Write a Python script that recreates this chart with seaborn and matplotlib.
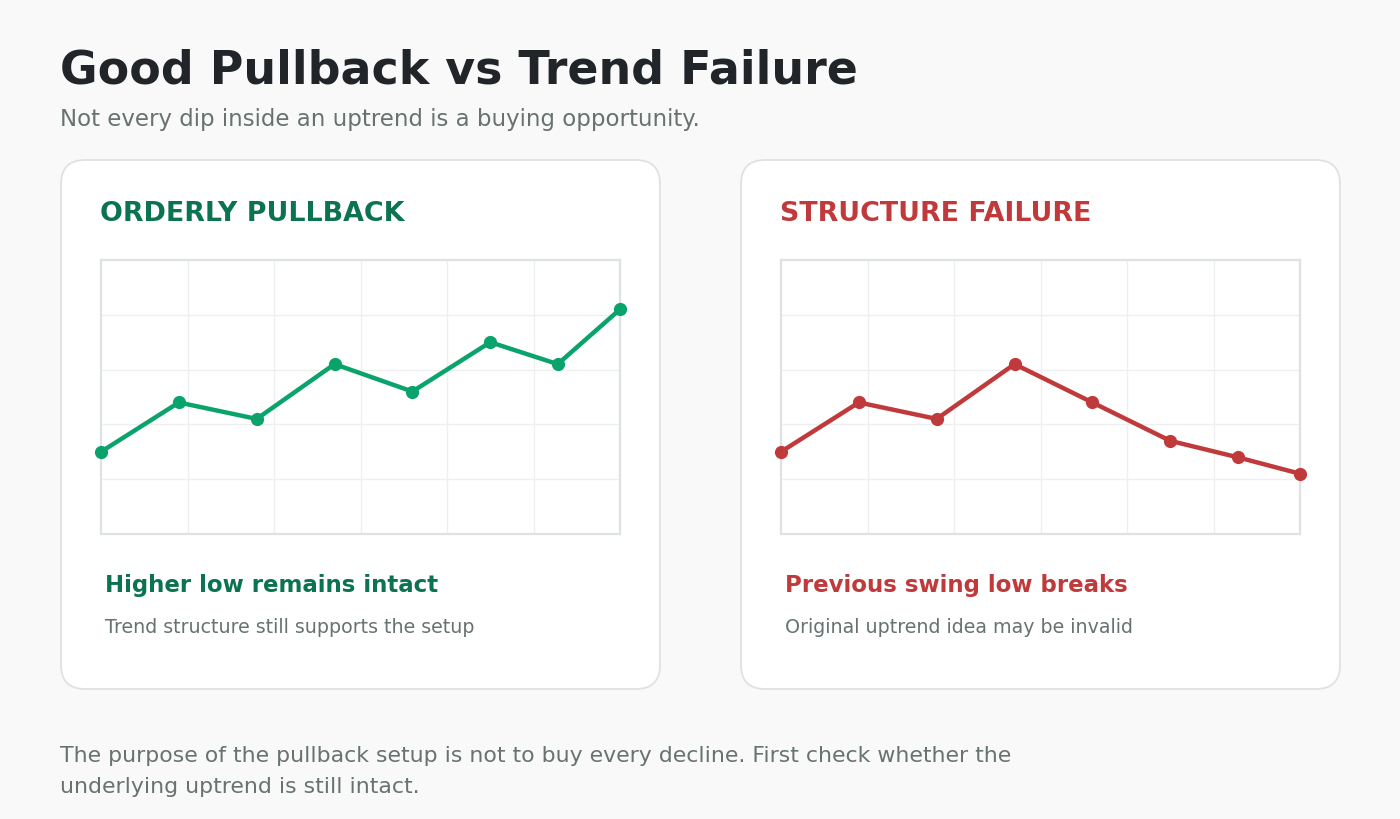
import matplotlib
matplotlib.use("Agg")
import matplotlib.pyplot as plt
from matplotlib.patches import FancyBboxPatch
import seaborn as sns
import pandas as pd

# data
x_pos = [0, 15, 30, 45, 60, 75, 88, 100]
pullback = [30, 48, 42, 62, 52, 70, 62, 82]
failure = [30, 48, 42, 62, 48, 34, 28, 22]

titles = ["ORDERLY PULLBACK", "STRUCTURE FAILURE"]
headlines = ["Higher low remains intact", "Previous swing low breaks"]
notes = ["Trend structure still supports the setup", "Original uptrend idea may be invalid"]
dark_colors = ["#0b7350", "#c0393b"]
line_colors = ["#0aa36b", "#c0393b"]

sns.set_theme(style="white")
plt.rcParams["font.family"] = ["DejaVu Sans"]

W, H = 1400, 820
fig = plt.figure(figsize=(14, 8.2), dpi=100)
fig.patch.set_facecolor("#f8f9f8")

# background axes in pixel coords
bg = fig.add_axes([0, 0, 1, 1])
bg.set_xlim(0, W)
bg.set_ylim(H, 0)
bg.axis("off")
bg.patch.set_alpha(0)

bg.text(60, 84, "Good Pullback vs Trend Failure", fontsize=33, fontweight="bold",
        color="#212529", va="baseline")
bg.text(60, 126, "Not every dip inside an uptrend is a buying opportunity.",
        fontsize=16.5, color="#68736f", va="baseline")

for i, x0 in enumerate([61, 741]):
    card = FancyBboxPatch((x0 + 24, 161 + 24), 599 - 48, 529 - 48,
                          boxstyle="round,pad=24", facecolor="white",
                          edgecolor="#dde3e1", linewidth=1.3)
    bg.add_patch(card)
    bg.text(x0 + 39, 221, titles[i], fontsize=19.4, fontweight="bold",
            color=dark_colors[i], va="baseline")
    bg.text(x0 + 44, 592, headlines[i], fontsize=16.5, fontweight="bold",
            color=dark_colors[i], va="baseline")
    bg.text(x0 + 44, 633, notes[i], fontsize=13.7, color="#68736f", va="baseline")

    ax = fig.add_axes([(x0 + 40) / W, (H - 535) / H, 519 / W, 274 / H])
    df = pd.DataFrame({"x": x_pos, "y": pullback if i == 0 else failure})
    sns.lineplot(data=df, x="x", y="y", ax=ax, color=line_colors[i],
                 linewidth=3.2, marker="o", markersize=9.5, markeredgewidth=0,
                 clip_on=False, zorder=3)
    ax.set_xlim(0, 100)
    ax.set_ylim(0, 100)
    ax.set_xticks([100 / 6 * k for k in range(1, 6)])
    ax.set_yticks([20, 40, 60, 80])
    ax.grid(True, color="#eef0ef", linewidth=1)
    ax.tick_params(length=0, labelbottom=False, labelleft=False)
    ax.set_xlabel("")
    ax.set_ylabel("")
    for s in ax.spines.values():
        s.set_color("#dde3e1")
        s.set_linewidth(1.6)
    ax.set_facecolor("white")

bg.text(60, 762, "The purpose of the pullback setup is not to buy every decline. First check whether the",
        fontsize=15.8, color="#68736f", va="baseline")
bg.text(60, 793, "underlying uptrend is still intact.",
        fontsize=15.8, color="#68736f", va="baseline")

fig.savefig("out.png", dpi=100, facecolor=fig.get_facecolor())
